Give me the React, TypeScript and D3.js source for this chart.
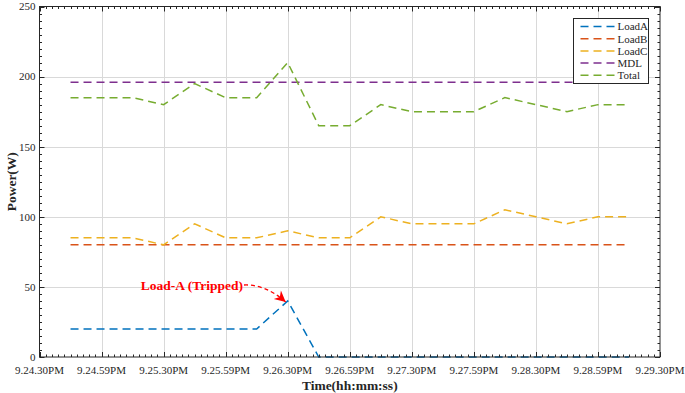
import { useEffect, useRef } from "react";
import * as d3 from "d3";

// Libellés de l'axe des temps (un tous les ~30 s)
const timeTicks = [
  "9.24.30PM", "9.24.59PM", "9.25.30PM", "9.25.59PM", "9.26.30PM", "9.26.59PM",
  "9.27.30PM", "9.27.59PM", "9.28.30PM", "9.28.59PM", "9.29.30PM",
];

// Échantillons toutes les ~15 s (positions en demi-intervalles de l'axe)
const samples = [1, 2, 3, 4, 5, 6, 7, 8, 9, 10, 11, 12, 13, 14, 15, 16, 17, 18, 19];

const loadA = [20, 20, 20, 20, 20, 20, 20, 40, 0, 0, 0, 0, 0, 0, 0, 0, 0, 0, 0];
const loadB = [80, 80, 80, 80, 80, 80, 80, 80, 80, 80, 80, 80, 80, 80, 80, 80, 80, 80, 80];
const loadC = [85, 85, 85, 80, 95, 85, 85, 90, 85, 85, 100, 95, 95, 95, 105, 100, 95, 100, 100];
const mdl = [196, 196, 196, 196, 196, 196, 196, 196, 196, 196, 196, 196, 196, 196, 196, 196, 196, 196, 196];
const total = [185, 185, 185, 180, 195, 185, 185, 210, 165, 165, 180, 175, 175, 175, 185, 180, 175, 180, 180];

const series = [
  { name: "LoadA", color: "#0072BD", values: loadA },
  { name: "LoadB", color: "#D95319", values: loadB },
  { name: "LoadC", color: "#EDB120", values: loadC },
  { name: "MDL", color: "#7E2F8E", values: mdl },
  { name: "Total", color: "#77AC30", values: total },
];

const W = 685;
const H = 393;
const FONT = "Liberation Serif, Times New Roman, DejaVu Serif, serif";

export default function App() {
  const svgRef = useRef<SVGSVGElement>(null);

  useEffect(() => {
    if (!svgRef.current) return;
    document.body.style.margin = "0";
    const svg = d3.select(svgRef.current);
    svg.selectAll("*").remove();

    const margin = { top: 6.5, right: 25, bottom: 36, left: 39.5 };
    const x0 = margin.left;
    const x1 = W - margin.right;
    const y0 = H - margin.bottom;
    const y1 = margin.top;

    const x = d3.scaleLinear().domain([0, 20]).range([x0, x1]);
    const y = d3.scaleLinear().domain([0, 250]).range([y0, y1]);

    svg.append("rect").attr("width", W).attr("height", H).attr("fill", "#fff");

    const majorX = d3.range(0, 21, 2);
    const minorX = d3.range(0, 20.01, 0.2);
    const majorY = d3.range(0, 251, 50);
    const minorY = d3.range(0, 251, 5);

    // Grille
    const grid = svg.append("g").attr("stroke", "#d9d9d9").attr("stroke-width", 1);
    majorX.slice(1, -1).forEach((v) => {
      const px = Math.round(x(v)) + 0.5;
      grid.append("line").attr("x1", px).attr("x2", px).attr("y1", y0).attr("y2", y1);
    });
    majorY.slice(1, -1).forEach((v) => {
      const py = Math.round(y(v)) + 0.5;
      grid.append("line").attr("x1", x0).attr("x2", x1).attr("y1", py).attr("y2", py);
    });

    // Courbes
    const line = d3
      .line<number>()
      .x((_, i) => x(samples[i]))
      .y((d) => y(d));

    series.forEach((s) => {
      svg
        .append("path")
        .datum(s.values)
        .attr("d", line)
        .attr("fill", "none")
        .attr("stroke", s.color)
        .attr("stroke-width", 1.5)
        .attr("stroke-dasharray", "8,5");
    });

    // Cadre et graduations intérieures
    const axes = svg.append("g").attr("stroke", "#262626").attr("stroke-width", 1);
    axes
      .append("rect")
      .attr("x", x0)
      .attr("y", y1)
      .attr("width", x1 - x0)
      .attr("height", y0 - y1)
      .attr("fill", "none");

    minorX.forEach((v) => {
      const isMajor = Math.abs(v / 2 - Math.round(v / 2)) < 1e-6;
      const len = isMajor ? 5 : 2.5;
      const px = Math.round(x(v)) + 0.5;
      axes.append("line").attr("x1", px).attr("x2", px).attr("y1", y0).attr("y2", y0 - len);
      axes.append("line").attr("x1", px).attr("x2", px).attr("y1", y1).attr("y2", y1 + len);
    });
    minorY.forEach((v) => {
      const isMajor = v % 50 === 0;
      const len = isMajor ? 5 : 2.5;
      const py = Math.round(y(v)) + 0.5;
      axes.append("line").attr("x1", x0).attr("x2", x0 + len).attr("y1", py).attr("y2", py);
      axes.append("line").attr("x1", x1).attr("x2", x1 - len).attr("y1", py).attr("y2", py);
    });

    // Libellés des graduations
    const tickText = svg
      .append("g")
      .attr("font-family", FONT)
      .attr("font-size", 11)
      .attr("fill", "#262626");

    majorX.forEach((v, i) => {
      tickText
        .append("text")
        .attr("x", x(v))
        .attr("y", y0 + 17)
        .attr("text-anchor", "middle")
        .text(timeTicks[i]);
    });
    majorY.forEach((v) => {
      tickText
        .append("text")
        .attr("x", x0 - 4)
        .attr("y", y(v))
        .attr("dy", "0.35em")
        .attr("text-anchor", "end")
        .text(v);
    });

    // Titres des axes
    svg
      .append("text")
      .attr("x", (x0 + x1) / 2)
      .attr("y", H - 3)
      .attr("text-anchor", "middle")
      .attr("font-family", FONT)
      .attr("font-size", 13.5)
      .attr("font-weight", "bold")
      .attr("fill", "#262626")
      .text("Time(hh:mm:ss)");

    svg
      .append("text")
      .attr("transform", `translate(16,${(y0 + y1) / 2}) rotate(-90)`)
      .attr("text-anchor", "middle")
      .attr("font-family", FONT)
      .attr("font-size", 13.5)
      .attr("font-weight", "bold")
      .attr("fill", "#262626")
      .text("Power(W)");

    // Annotation
    const peakIdx = loadA.indexOf(d3.max(loadA) as number);
    const tipX = x(samples[peakIdx]) - 2;
    const tipY = y(loadA[peakIdx]) + 1;
    const startX = 244;
    const startY = 285;

    svg
      .append("defs")
      .append("marker")
      .attr("id", "arrowhead")
      .attr("viewBox", "0 0 10 10")
      .attr("refX", 10)
      .attr("refY", 5)
      .attr("markerWidth", 18)
      .attr("markerHeight", 11)
      .attr("markerUnits", "userSpaceOnUse")
      .attr("orient", "auto")
      .append("path")
      .attr("d", "M0,0 L10,5 L0,10 L3,5 Z")
      .attr("fill", "#ff0000");

    svg
      .append("path")
      .attr("d", `M${startX},${startY} Q${(startX + tipX) / 2},${startY - 1} ${tipX},${tipY}`)
      .attr("fill", "none")
      .attr("stroke", "#ff0000")
      .attr("stroke-width", 1.3)
      .attr("stroke-dasharray", "4,3")
      .attr("marker-end", "url(#arrowhead)");

    svg
      .append("text")
      .attr("x", startX - 1)
      .attr("y", startY + 4.5)
      .attr("text-anchor", "end")
      .attr("font-family", FONT)
      .attr("font-size", 13.5)
      .attr("font-weight", "bold")
      .attr("fill", "#ff0000")
      .text("Load-A (Tripped)");

    // Légende
    const lg = svg.append("g").attr("transform", "translate(573.5,18.5)");
    lg.append("rect")
      .attr("width", 75)
      .attr("height", 65)
      .attr("fill", "#fff")
      .attr("stroke", "#262626")
      .attr("stroke-width", 1);
    series.forEach((s, i) => {
      const ly = 8 + i * 12.2;
      lg.append("line")
        .attr("x1", 7)
        .attr("x2", 41)
        .attr("y1", ly)
        .attr("y2", ly)
        .attr("stroke", s.color)
        .attr("stroke-width", 1.5)
        .attr("stroke-dasharray", "8,5");
      lg.append("text")
        .attr("x", 44)
        .attr("y", ly)
        .attr("dy", "0.35em")
        .attr("font-family", FONT)
        .attr("font-size", 11)
        .attr("fill", "#262626")
        .text(s.name);
    });
  }, []);

  return <svg ref={svgRef} width={W} height={H} style={{ display: "block" }} />;
}
